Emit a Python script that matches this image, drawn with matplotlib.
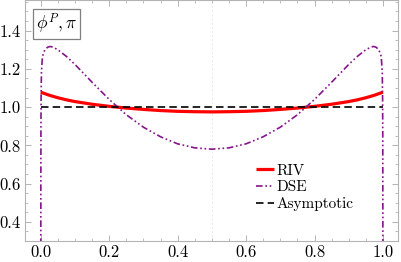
import matplotlib
matplotlib.use("Agg")
import matplotlib.pyplot as plt
from matplotlib.ticker import MultipleLocator

plt.rcParams['font.family'] = ['cmr10', 'DejaVu Serif']
plt.rcParams['mathtext.fontset'] = 'cm'
plt.rcParams['axes.formatter.use_mathtext'] = True

# RIV curve
riv_x = [0.0, 0.025, 0.05, 0.075, 0.1, 0.15, 0.2, 0.25, 0.3, 0.35, 0.4, 0.45, 0.5,
         0.55, 0.6, 0.65, 0.7, 0.75, 0.8, 0.85, 0.9, 0.925, 0.95, 0.975, 1.0]
riv_y = [1.078, 1.062, 1.049, 1.038, 1.029, 1.015, 1.004, 0.995, 0.988, 0.982, 0.978, 0.976, 0.975,
         0.976, 0.978, 0.982, 0.988, 0.995, 1.004, 1.015, 1.029, 1.038, 1.049, 1.062, 1.078]

# DSE curve
dse_x = [0.0, 0.0005, 0.001, 0.002, 0.005, 0.012, 0.02, 0.027, 0.035, 0.05, 0.075, 0.1,
         0.15, 0.2, 0.25, 0.3, 0.35, 0.4, 0.45, 0.5, 0.55, 0.6, 0.65, 0.7, 0.75, 0.8,
         0.85, 0.9, 0.925, 0.95, 0.965, 0.973, 0.98, 0.988, 0.995, 0.998, 0.999, 0.9995, 1.0]
dse_y = [0.0, 0.85, 1.05, 1.18, 1.265, 1.30, 1.313, 1.317, 1.314, 1.30, 1.265, 1.223,
         1.13, 1.04, 0.96, 0.895, 0.845, 0.808, 0.787, 0.78, 0.787, 0.808, 0.845, 0.895, 0.96, 1.04,
         1.13, 1.223, 1.265, 1.30, 1.314, 1.317, 1.313, 1.30, 1.265, 1.18, 1.05, 0.85, 0.0]

# asymptotic
asy_x = [0.0, 1.0]
asy_y = [1.0, 1.0]

fig = plt.figure(figsize=(4.01, 2.62), dpi=100)
ax = fig.add_axes([25/401, 21/262, 373/401, 241/262])

ax.axvline(0.5, color='#e8e8e8', lw=0.6, ls=(0, (3, 2)), zorder=0)

ax.plot(riv_x, riv_y, color='#ff0000', lw=2.3, label='RIV', solid_capstyle='butt')
ax.plot(dse_x, dse_y, color='#85158a', lw=1.2, dashes=(4, 1.6, 1, 1.6, 1, 1.6), label='DSE')
ax.plot(asy_x, asy_y, color='black', lw=1.2, dashes=(4.5, 2.5), label='Asymptotic')

ax.set_xlim(-0.046, 1.044)
ax.set_ylim(0.3, 1.56)
ax.xaxis.set_major_locator(MultipleLocator(0.2))
ax.xaxis.set_minor_locator(MultipleLocator(0.05))
ax.yaxis.set_major_locator(MultipleLocator(0.2))
ax.yaxis.set_minor_locator(MultipleLocator(0.05))
ax.xaxis.set_major_formatter(matplotlib.ticker.FormatStrFormatter('%.1f'))
ax.yaxis.set_major_formatter(matplotlib.ticker.FormatStrFormatter('%.1f'))

for s in ax.spines.values():
    s.set_color('#b4b4b4')
    s.set_linewidth(0.8)
ax.tick_params(which='both', direction='in', top=True, right=True, color='#b4b4b4',
               labelsize=12, pad=3)
ax.tick_params(which='major', length=4.5, width=0.7)
ax.tick_params(which='minor', length=2.5, width=0.6)

# label box, bold phi
ax.text((36 - 25) / 373, (241 - 24) / 241, r'$\mathbf{\phi}^P,\pi$', transform=ax.transAxes,
        fontsize=12.5, va='center', ha='left',
        bbox=dict(boxstyle='square,pad=0.15', fc='white', ec='#808080', lw=0.9))

ax.legend(loc='upper left', bbox_to_anchor=(0.62, 0.32), frameon=False, fontsize=11,
          handlelength=1.15, handletextpad=0.15, labelspacing=0.2, borderpad=0,
          borderaxespad=0)

fig.savefig('out.png', dpi=100)
